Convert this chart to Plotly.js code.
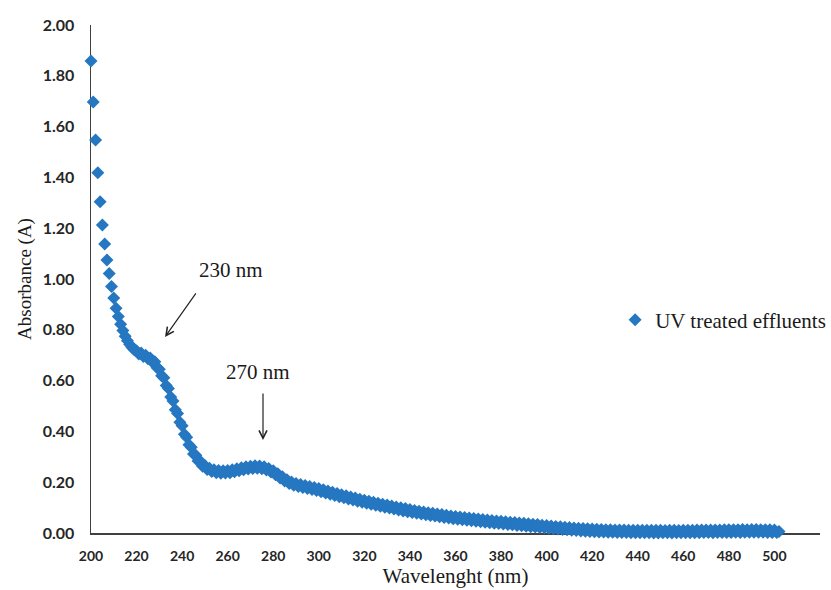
<!DOCTYPE html>
<html>
<head>
<meta charset="utf-8">
<script src="https://cdn.plot.ly/plotly-3.0.1.min.js"></script>
<style>
html,body{margin:0;padding:0;background:#fff;}
#chart{width:831px;height:590px;}
</style>
</head>
<body>
<div id="chart"></div>
<script>
// Wavelength (nm)
const wavelength = [
200,201,202,203,204,205,206,207,208,209,
210,211,212,213,214,215,216,217,218,219,
220,221,222,223,224,225,226,227,228,229,
230,231,232,233,234,235,236,237,238,239,
240,241,242,243,244,245,246,247,248,249,
250,251,252,253,254,255,256,257,258,259,
260,261,262,263,264,265,266,267,268,269,
270,271,272,273,274,275,276,277,278,279,
280,281,282,283,284,285,286,287,288,289,
290,291,292,293,294,295,296,297,298,299,
300,301,302,303,304,305,306,307,308,309,
310,311,312,313,314,315,316,317,318,319,
320,321,322,323,324,325,326,327,328,329,
330,331,332,333,334,335,336,337,338,339,
340,341,342,343,344,345,346,347,348,349,
350,351,352,353,354,355,356,357,358,359,
360,361,362,363,364,365,366,367,368,369,
370,371,372,373,374,375,376,377,378,379,
380,381,382,383,384,385,386,387,388,389,
390,391,392,393,394,395,396,397,398,399,
400,401,402,403,404,405,406,407,408,409,
410,411,412,413,414,415,416,417,418,419,
420,421,422,423,424,425,426,427,428,429,
430,431,432,433,434,435,436,437,438,439,
440,441,442,443,444,445,446,447,448,449,
450,451,452,453,454,455,456,457,458,459,
460,461,462,463,464,465,466,467,468,469,
470,471,472,473,474,475,476,477,478,479,
480,481,482,483,484,485,486,487,488,489,
490,491,492,493,494,495,496,497,498,499,
500,501,502
];

// Absorbance (A) of UV treated effluents
const absorbance = [
1.858,1.697,1.547,1.418,1.304,1.213,1.138,1.075,1.022,0.970,
0.925,0.885,0.852,0.822,0.797,0.775,0.757,0.742,0.730,0.721,
0.718,0.705,0.709,0.695,0.700,0.686,0.689,0.672,0.674,0.651,
0.645,0.619,0.611,0.581,0.569,0.535,0.520,0.485,0.470,0.436,
0.422,0.389,0.377,0.347,0.338,0.311,0.306,0.283,0.282,0.263,
0.266,0.250,0.255,0.242,0.249,0.237,0.246,0.235,0.245,0.236,
0.246,0.237,0.249,0.241,0.253,0.245,0.257,0.249,0.261,0.252,
0.263,0.254,0.265,0.255,0.264,0.253,0.261,0.248,0.254,0.240,
0.245,0.229,0.233,0.217,0.221,0.205,0.210,0.195,0.201,0.188,
0.195,0.183,0.191,0.179,0.187,0.175,0.183,0.171,0.179,0.167,
0.175,0.162,0.170,0.157,0.165,0.153,0.160,0.148,0.156,0.143,
0.151,0.139,0.147,0.134,0.142,0.130,0.138,0.125,0.133,0.121,
0.129,0.117,0.125,0.113,0.121,0.109,0.117,0.105,0.113,0.101,
0.110,0.098,0.106,0.094,0.102,0.091,0.099,0.087,0.096,0.084,
0.093,0.081,0.089,0.078,0.086,0.075,0.083,0.072,0.080,0.069,
0.078,0.067,0.075,0.064,0.073,0.061,0.070,0.059,0.067,0.056,
0.065,0.054,0.063,0.052,0.061,0.050,0.059,0.048,0.057,0.046,
0.055,0.044,0.053,0.042,0.051,0.040,0.049,0.038,0.047,0.037,
0.046,0.035,0.044,0.033,0.042,0.032,0.041,0.030,0.039,0.029,
0.038,0.027,0.036,0.025,0.034,0.024,0.033,0.022,0.031,0.021,
0.030,0.019,0.028,0.017,0.026,0.016,0.025,0.014,0.023,0.013,
0.022,0.011,0.020,0.010,0.019,0.008,0.018,0.007,0.017,0.006,
0.016,0.005,0.015,0.004,0.014,0.004,0.013,0.003,0.013,0.003,
0.012,0.002,0.012,0.002,0.012,0.002,0.011,0.001,0.011,0.001,
0.011,0.001,0.011,0.001,0.011,0.001,0.011,0.000,0.011,0.000,
0.011,0.001,0.010,0.001,0.011,0.000,0.011,0.001,0.010,0.001,
0.011,0.001,0.011,0.001,0.011,0.001,0.012,0.001,0.012,0.002,
0.012,0.002,0.012,0.001,0.012,0.002,0.012,0.002,0.013,0.002,
0.013,0.002,0.013,0.003,0.013,0.002,0.014,0.003,0.013,0.003,
0.014,0.003,0.014,0.003,0.013,0.003,0.013,0.002,0.013,0.002,
0.012,0.002,0.006
];

const seriesName = 'UV treated effluents';
const peakLabels = ['230 nm', '270 nm'];
const xTickVals = [200,220,240,260,280,300,320,340,360,380,400,420,440,460,480,500,520];
const yTickVals = [0,0.2,0.4,0.6,0.8,1.0,1.2,1.4,1.6,1.8,2.0];

const blue = '#2677c1';
const serif = 'Liberation Serif, Times New Roman, serif';

const trace = {
  type: 'scatter',
  mode: 'markers',
  x: wavelength,
  y: absorbance,
  name: seriesName,
  cliponaxis: false,
  marker: {symbol: 'diamond', size: 10, color: blue, line: {width: 0}}
};

const layout = {
  width: 831, height: 590,
  margin: {l: 91, r: 11, t: 25, b: 57, autoexpand: false},
  paper_bgcolor: '#ffffff', plot_bgcolor: '#ffffff',
  showlegend: true,
  legend: {
    x: 0.719, y: 0.419, xanchor: 'left', yanchor: 'middle',
    font: {family: serif, size: 21, color: '#1a1a1a'},
    bgcolor: 'rgba(0,0,0,0)', borderwidth: 0
  },
  xaxis: {
    range: [200, 520], tickvals: xTickVals, ticktext: xTickVals.map(String),
    showline: true, linecolor: '#404040', linewidth: 1.5,
    showgrid: false, zeroline: false, ticks: '', layer: 'below traces',
    tickfont: {family: 'Lato, sans-serif', size: 14, color: '#262626', weight: 'bold'},
    ticklabelstandoff: 10,
    title: {text: 'Wavelenght (nm)', font: {family: serif, size: 21, color: '#1a1a1a'}, standoff: 5}
  },
  yaxis: {
    range: [0, 2], tickvals: yTickVals, tickformat: '.2f',
    showline: true, linecolor: '#404040', linewidth: 1.5,
    showgrid: false, zeroline: false, ticks: '', layer: 'below traces',
    tickfont: {family: 'Lato, sans-serif', size: 16, color: '#262626', weight: 'bold'},
    ticklabelstandoff: 12,
    title: {text: 'Absorbance (A)', font: {family: serif, size: 19, color: '#1a1a1a'}, standoff: 6}
  },
  annotations: [
    {x: 261.5, y: 1.035, xref: 'x', yref: 'y', text: peakLabels[0], showarrow: false,
     font: {family: serif, size: 21, color: '#1a1a1a'}},
    {x: 232.5, y: 0.772, ax: 246.5, ay: 0.949, xref: 'x', yref: 'y', axref: 'x', ayref: 'y',
     text: '', showarrow: true, arrowhead: 5, arrowsize: 1.3, arrowwidth: 1.2, arrowcolor: '#222'},
    {x: 273.5, y: 0.634, xref: 'x', yref: 'y', text: peakLabels[1], showarrow: false,
     font: {family: serif, size: 21, color: '#1a1a1a'}},
    {x: 275.5, y: 0.366, ax: 275.5, ay: 0.555, xref: 'x', yref: 'y', axref: 'x', ayref: 'y',
     text: '', showarrow: true, arrowhead: 5, arrowsize: 1.3, arrowwidth: 1.2, arrowcolor: '#222'}
  ]
};

Plotly.newPlot('chart', [trace], layout, {displayModeBar: false, staticPlot: true});
</script>
</body>
</html>
